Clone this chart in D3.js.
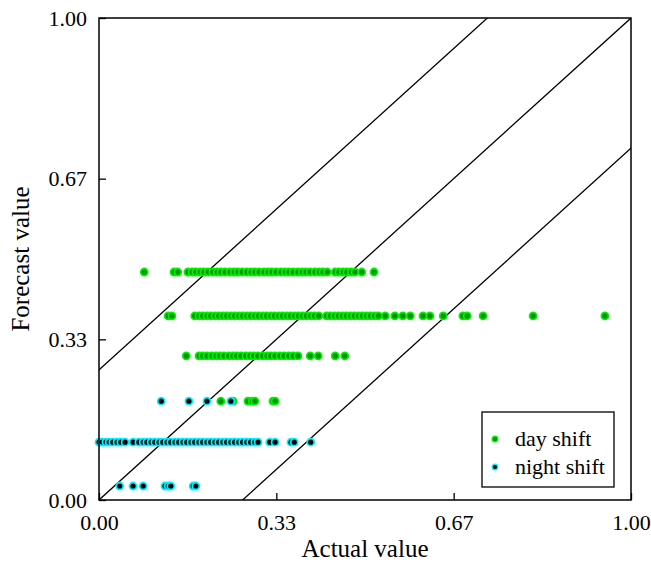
<!DOCTYPE html>
<html>
<head>
<meta charset="utf-8">
<script src="https://cdn.jsdelivr.net/npm/d3@7"></script>
<style>
  body { margin: 0; background: #fff; }
  text { font-family: "Liberation Serif", "Times New Roman", serif; fill: #000; }
</style>
</head>
<body>
<div id="main"></div>
<script>
// forecast levels (y) and the actual values (x) seen at each level
const dayLevels = [0.473, 0.382, 0.299, 0.205];
const dayX = [
  [0.085, 0.141, 0.148, 0.167, 0.175, 0.182, 0.190, 0.197, 0.205, 0.214, 0.222, 0.229, 0.237, 0.246,
   0.254, 0.261, 0.269, 0.278, 0.286, 0.293, 0.301, 0.310, 0.318, 0.325, 0.333, 0.342, 0.350, 0.357,
   0.365, 0.374, 0.382, 0.389, 0.397, 0.406, 0.414, 0.421, 0.429, 0.444, 0.451, 0.459, 0.466, 0.474,
   0.481, 0.494, 0.517],
  [0.130, 0.137, 0.180, 0.188, 0.195, 0.203, 0.210, 0.218, 0.225, 0.233, 0.240, 0.248, 0.255, 0.263,
   0.270, 0.278, 0.285, 0.293, 0.300, 0.308, 0.315, 0.323, 0.330, 0.338, 0.345, 0.353, 0.360, 0.368,
   0.375, 0.383, 0.390, 0.398, 0.405, 0.413, 0.428, 0.435, 0.443, 0.450, 0.458, 0.465, 0.473, 0.480,
   0.488, 0.495, 0.503, 0.510, 0.518, 0.525, 0.538, 0.556, 0.571, 0.585, 0.609, 0.622, 0.647, 0.684,
   0.692, 0.722, 0.816, 0.951],
  [0.164, 0.188, 0.195, 0.203, 0.212, 0.220, 0.227, 0.235, 0.244, 0.252, 0.259, 0.267, 0.276, 0.284,
   0.291, 0.299, 0.308, 0.316, 0.323, 0.331, 0.340, 0.348, 0.357, 0.365, 0.374, 0.397, 0.412, 0.444,
   0.462],
  [0.229, 0.252, 0.280, 0.288, 0.293, 0.327, 0.331]
];

const nightLevels = [0.205, 0.120, 0.029];
const nightX = [
  [0.117, 0.169, 0.203, 0.248],
  [0.000, 0.006, 0.013, 0.019, 0.026, 0.034, 0.041, 0.049, 0.064, 0.075, 0.083, 0.090, 0.098, 0.105,
   0.113, 0.120, 0.128, 0.135, 0.143, 0.150, 0.158, 0.165, 0.173, 0.180, 0.188, 0.195, 0.203, 0.210,
   0.218, 0.225, 0.233, 0.240, 0.248, 0.255, 0.263, 0.270, 0.278, 0.285, 0.293, 0.299, 0.321, 0.331,
   0.361, 0.367, 0.398],
  [0.039, 0.064, 0.083, 0.124, 0.130, 0.135, 0.177, 0.182]
];

const tickVals = [0, 1 / 3, 2 / 3, 1];
const tickLabels = ["0.00", "0.33", "0.67", "1.00"];
const bandOffsets = [0.27, 0, -0.27];
const seriesNames = ["day shift", "night shift"];

const W = 651, H = 564;
const margin = { left: 99, right: 20, top: 18, bottom: 64 };
const innerW = W - margin.left - margin.right;
const innerH = H - margin.top - margin.bottom;

const styles = [
  { fill: "#009000", stroke: "#00f000" },
  { fill: "#000000", stroke: "#00f0ff" }
];

function toPoints(levels, xs) {
  const pts = [];
  levels.forEach((y, i) => xs[i].forEach(x => pts.push({ x: x, y: y })));
  return pts;
}

const svg = d3.select("#main").append("svg").attr("width", W).attr("height", H);
const g = svg.append("g").attr("transform", `translate(${margin.left},${margin.top})`);

const x = d3.scaleLinear().domain([0, 1]).range([0, innerW]);
const y = d3.scaleLinear().domain([0, 1]).range([innerH, 0]);

g.append("defs").append("clipPath").attr("id", "clip")
  .append("rect").attr("width", innerW).attr("height", innerH);

// diagonal lines
const lines = g.append("g").attr("clip-path", "url(#clip)");
bandOffsets.forEach(off => {
  lines.append("line")
    .attr("x1", x(-0.5)).attr("y1", y(-0.5 + off))
    .attr("x2", x(1.5)).attr("y2", y(1.5 + off))
    .attr("stroke", "#000").attr("stroke-width", 1.3);
});

// points
const sets = [toPoints(dayLevels, dayX), toPoints(nightLevels, nightX)];
sets.forEach((pts, i) => {
  g.append("g").selectAll("circle")
    .data(pts)
    .enter()
    .append("circle")
    .attr("cx", d => x(d.x))
    .attr("cy", d => y(d.y))
    .attr("r", 3.5)
    .attr("fill", styles[i].fill)
    .attr("stroke", styles[i].stroke)
    .attr("stroke-width", 1.8);
});

// axes with inward ticks
const xAxis = g.append("g").attr("transform", `translate(0,${innerH})`)
  .call(d3.axisBottom(x).tickValues(tickVals).tickSize(-7).tickPadding(14)
    .tickFormat((d, i) => tickLabels[i]));
const yAxis = g.append("g")
  .call(d3.axisLeft(y).tickValues(tickVals).tickSize(-7).tickPadding(12)
    .tickFormat((d, i) => tickLabels[i]));
[xAxis, yAxis].forEach(a => {
  a.select(".domain").remove();
  a.selectAll("line").attr("stroke", "#000").attr("stroke-width", 1.3);
  a.selectAll("text").style("font-size", "22px").attr("fill", "#000");
});

// frame
g.append("rect").attr("width", innerW).attr("height", innerH)
  .attr("fill", "none").attr("stroke", "#000").attr("stroke-width", 1.5);

// axis titles
svg.append("text").attr("x", margin.left + innerW / 2).attr("y", 557)
  .attr("text-anchor", "middle").style("font-size", "25px").text("Actual value");
svg.append("text").attr("transform", `translate(29,${margin.top + innerH / 2}) rotate(-90)`)
  .attr("text-anchor", "middle").style("font-size", "25px").text("Forecast value");

// legend
const leg = svg.append("g").attr("transform", "translate(482,412)");
leg.append("rect").attr("width", 132).attr("height", 75)
  .attr("fill", "#fff").attr("stroke", "#000").attr("stroke-width", 1.3);
seriesNames.forEach((name, i) => {
  const row = leg.append("g").attr("transform", `translate(0,${27 + i * 28})`);
  row.append("circle").attr("cx", 13).attr("cy", 0).attr("r", 2.8)
    .attr("fill", styles[i].fill).attr("stroke", styles[i].stroke).attr("stroke-width", 1.4);
  row.append("text").attr("x", 33).attr("y", 7).style("font-size", "22px").text(name);
});
</script>
</body>
</html>
